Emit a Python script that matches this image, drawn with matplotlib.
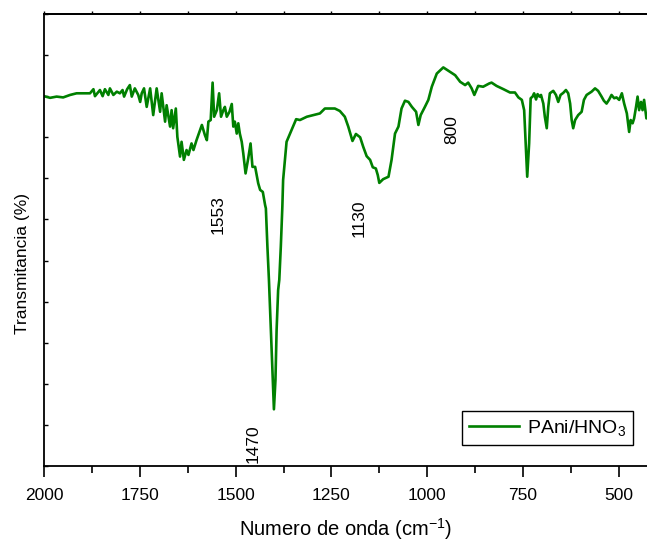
import numpy as np
import matplotlib
matplotlib.use("Agg")
import matplotlib.pyplot as plt
from matplotlib.ticker import MultipleLocator

plt.rcParams['font.family'] = ['Liberation Sans', 'DejaVu Sans']
plt.rcParams['mathtext.fontset'] = 'custom'
plt.rcParams['mathtext.rm'] = 'Liberation Sans'
plt.rcParams['mathtext.it'] = 'Liberation Sans'

# Wavenumber (cm-1) and transmittance (arbitrary units)
wavenumber = [
    2000, 1984, 1967, 1950, 1932, 1915, 1897, 1880, 1871, 1867, 1854, 1847, 1841, 1832,
    1828, 1819, 1810, 1802, 1795, 1791, 1783, 1776, 1771, 1763, 1754, 1749, 1745, 1739,
    1732, 1723, 1715, 1706, 1697, 1693, 1684, 1680, 1671, 1667, 1663, 1656, 1652, 1645,
    1641, 1635, 1628, 1623, 1615, 1610, 1602, 1588, 1580, 1575, 1571, 1565, 1560, 1556,
    1549, 1543, 1538, 1532, 1528, 1523, 1516, 1510, 1506, 1502, 1497, 1493, 1489, 1484,
    1480, 1474, 1467, 1461, 1456, 1449, 1441, 1436, 1429, 1423, 1421, 1417, 1413, 1408,
    1403, 1400, 1396, 1393, 1389, 1386, 1382, 1378, 1376, 1367, 1358, 1342, 1332, 1314,
    1297, 1280, 1267, 1254, 1241, 1228, 1215, 1206, 1195, 1186, 1175, 1167, 1158, 1149,
    1142, 1134, 1129, 1125, 1115, 1101, 1093, 1084, 1075, 1067, 1058, 1049, 1040, 1029,
    1023, 1017, 1006, 997, 988, 975, 958, 945, 927, 914, 901, 893, 884, 877, 867, 854,
    838, 832, 819, 801, 784, 771, 762, 753, 747, 743, 739, 734, 730, 725, 721, 716, 712,
    707, 703, 697, 693, 688, 684, 680, 671, 664, 658, 652, 645, 638, 632, 627, 623, 619,
    614, 606, 597, 591, 584, 571, 562, 554, 545, 539, 532, 525, 519, 512, 506, 499, 492,
    486, 479, 473, 469, 464, 460, 455, 451, 447, 442, 438, 434, 428, 420,
]
transmittance = [
    9.00, 8.96, 8.99, 8.97, 9.03, 9.07, 9.07, 9.07, 9.17, 9.00, 9.15, 9.00, 9.17, 9.03,
    9.19, 9.03, 9.11, 9.07, 9.15, 8.99, 9.17, 9.27, 8.99, 9.19, 9.03, 8.86, 9.07, 9.19,
    8.74, 9.19, 8.54, 9.19, 8.62, 9.07, 8.38, 8.78, 8.26, 8.66, 8.22, 8.70, 8.01, 7.53,
    7.89, 7.45, 7.69, 7.57, 7.85, 7.69, 7.93, 8.30, 8.05, 7.93, 8.38, 8.42, 9.33, 8.50,
    8.66, 9.07, 8.50, 8.66, 8.74, 8.50, 8.62, 8.81, 8.26, 8.38, 8.09, 8.34, 8.09, 7.89,
    7.61, 7.12, 7.49, 7.85, 7.28, 7.28, 6.88, 6.72, 6.67, 6.35, 6.27, 5.34, 4.53, 3.31,
    2.09, 1.38, 2.09, 3.31, 4.28, 4.53, 5.34, 6.31, 6.96, 7.89, 8.09, 8.44, 8.42, 8.50,
    8.54, 8.58, 8.70, 8.70, 8.70, 8.64, 8.50, 8.26, 7.91, 8.08, 8.00, 7.77, 7.54, 7.45,
    7.27, 7.24, 7.08, 6.89, 6.98, 7.04, 7.45, 8.09, 8.26, 8.70, 8.89, 8.86, 8.74, 8.62,
    8.30, 8.54, 8.74, 8.91, 9.23, 9.55, 9.70, 9.62, 9.51, 9.35, 9.27, 9.33, 9.19, 9.03,
    9.25, 9.23, 9.31, 9.33, 9.25, 9.17, 9.09, 9.09, 8.97, 8.91, 8.66, 7.85, 7.04, 7.85,
    8.95, 8.99, 9.07, 8.92, 9.05, 8.99, 9.03, 8.82, 8.50, 8.22, 8.74, 9.07, 9.13, 9.03,
    8.86, 9.03, 9.08, 9.15, 9.07, 8.82, 8.42, 8.22, 8.42, 8.54, 8.62, 8.91, 9.03, 9.11,
    9.19, 9.13, 8.99, 8.89, 8.82, 8.92, 9.03, 8.95, 8.97, 8.91, 9.07, 8.82, 8.58, 8.13,
    8.42, 8.34, 8.46, 8.74, 8.99, 8.66, 8.86, 8.66, 8.91, 8.46, 8.60,
]

# Peak annotations: label, wavenumber position, vertical position
peak_labels = ["1553", "1130", "800", "1470"]
peak_x = [1546, 1178, 935, 1455]
peak_y = [6.11, 6.03, 8.18, 0.54]

x_ticks = [2000, 1750, 1500, 1250, 1000, 750, 500]
series_label = "PAni/HNO$_3$"

W, H = 647, 541
fig = plt.figure(figsize=(W / 100, H / 100), dpi=100)
left, right, top, bottom = 44, 647, 14, 466
ax = fig.add_axes([left / W, 1 - bottom / H, (right - left) / W, (bottom - top) / H])

ax.plot(wavenumber, transmittance, color='#008000', lw=1.9, label=series_label,
        solid_joinstyle='round')

ax.set_xlim(2000, 2000 - (right - left) * 250 / 95.8)
ax.set_ylim(0, 11)

ax.set_xticks(x_ticks)
ax.set_xticklabels([str(t) for t in x_ticks])
ax.xaxis.set_minor_locator(MultipleLocator(125))
ax.yaxis.set_major_locator(MultipleLocator(1))
ax.set_yticklabels([])

ax.tick_params(axis='x', which='major', direction='out', length=8, width=1.2,
               labelsize=12.5, pad=8, top=False)
ax.tick_params(axis='x', which='minor', direction='out', length=5, width=1.2, top=False)
ax.tick_params(axis='y', which='major', direction='in', length=3, width=1.0, left=True)
ax.spines['right'].set_visible(False)
for s in ['left', 'bottom', 'top']:
    ax.spines[s].set_linewidth(1.3)

# short ticks on the top spine
sec = ax.secondary_xaxis('top')
sec.set_xticks(x_ticks)
sec.xaxis.set_minor_locator(MultipleLocator(125))
sec.set_xticklabels([])
sec.tick_params(axis='x', which='both', direction='out', length=2.5, width=1.0)
sec.spines['top'].set_linewidth(1.3)

for lab, px, py in zip(peak_labels, peak_x, peak_y):
    ax.text(px, py, lab, rotation=90, ha='center', va='center', fontsize=12.5)

ax.set_xlabel("Numero de onda (cm$^{-1}$)", fontsize=14.5, labelpad=9)
ax.set_ylabel("Transmitancia (%)", fontsize=12.5)
ax.yaxis.set_label_coords(-0.024, 0.449)

leg = ax.legend(loc='lower right', bbox_to_anchor=(633 / W, 1 - 445 / H),
                bbox_transform=fig.transFigure, fancybox=False, framealpha=1,
                edgecolor='black', fontsize=14, handlelength=2.6, borderpad=0.35,
                handletextpad=0.4, borderaxespad=0)
leg.get_frame().set_linewidth(1.0)

fig.savefig("out.png", dpi=100)
